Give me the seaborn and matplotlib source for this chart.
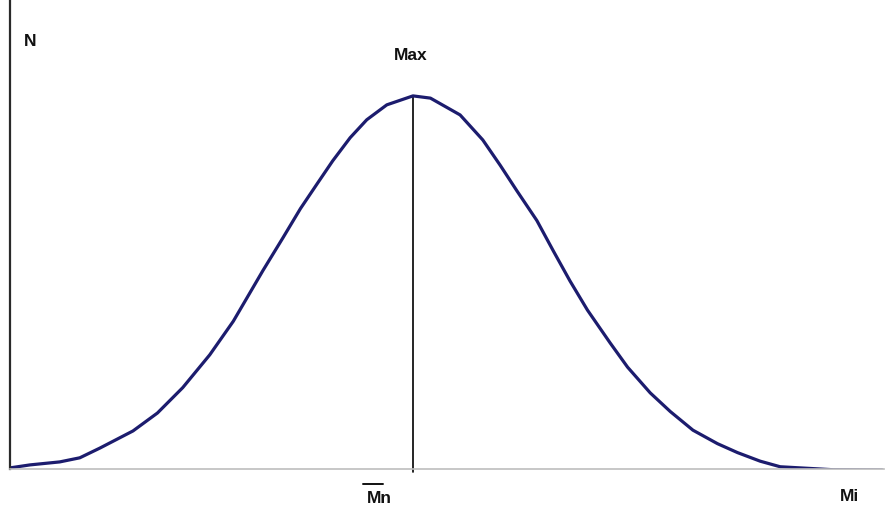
import numpy as np
import pandas as pd
import matplotlib
matplotlib.use("Agg")
import matplotlib.pyplot as plt
import seaborn as sns

# values (Mi on 0..100, N with the peak at 100)
mi_values = [0.0, 2.3, 5.7, 8.0, 10.3, 14.1, 16.9, 19.8, 22.9, 25.6, 27.2, 29.0,
             31.3, 33.3, 35.2, 37.0, 39.0, 40.9, 43.2, 46.2, 48.2, 51.6, 54.2,
             56.2, 58.1, 60.4, 62.3, 64.2, 66.2, 68.8, 70.8, 73.4, 75.7, 78.3,
             81.1, 83.4, 86.0, 88.3, 94.4, 100.0]
n_values = [0.3, 1.1, 1.9, 3.0, 5.6, 10.2, 15.0, 21.8, 30.6, 39.6, 46.0, 53.2,
            62.0, 69.8, 76.4, 82.6, 88.8, 93.6, 97.6, 100.0, 99.4, 94.9, 88.2,
            81.4, 74.6, 66.6, 58.4, 50.4, 42.6, 33.8, 27.3, 20.4, 15.4, 10.4,
            6.8, 4.4, 2.1, 0.6, -0.2, -0.3]

y_label = "N"
x_label = "Mi"
peak_label = "Max"
mean_label = "Mn"

df = pd.DataFrame({"Mi": mi_values, "N": n_values})

sns.set_theme(style="white")
plt.rcParams["font.family"] = ["Liberation Sans", "DejaVu Sans"]

fig = plt.figure(figsize=(8.92, 5.12), dpi=100)
ax = fig.add_axes([10 / 892, 43 / 512, 874 / 892, 469 / 512])

sns.lineplot(data=df, x="Mi", y="N", ax=ax, color="#1c1c6e", linewidth=2.3)
for ln in ax.get_lines():
    ln.set_solid_joinstyle("round")

ax.set_xlim(0, 100.2)
ax.set_ylim(0, 125.7)

# vertical line from the peak down to the axis
i_max = int(np.argmax(n_values))
peak_x, peak_y = mi_values[i_max], n_values[i_max]
ax.plot([peak_x, peak_x], [-0.8, peak_y], color="black", linewidth=1.2,
        clip_on=False, zorder=1)

for side in ["top", "right"]:
    ax.spines[side].set_visible(False)
ax.spines["left"].set_color("#2a2a2a")
ax.spines["left"].set_linewidth(1.6)
ax.spines["bottom"].set_color("#bdbdbd")
ax.spines["bottom"].set_linewidth(1.2)
ax.set_xticks([])
ax.set_yticks([])
ax.set_xlabel("")
ax.set_ylabel("")

txt = dict(fontsize=12.5, fontweight="bold", ha="center", va="center",
           color="#111111", clip_on=False)
ax.text(2.3, 114.5, y_label, **txt)
ax.text(peak_x - 0.3, 110.7, peak_label, **txt)
ax.text(42.4, -8.0, mean_label, **txt)
ax.plot([40.5, 42.8], [-4.0, -4.0], color="#111111", linewidth=1.4, clip_on=False)
ax.text(96.3, -7.5, x_label, **txt)

fig.savefig("out.png", dpi=100)
